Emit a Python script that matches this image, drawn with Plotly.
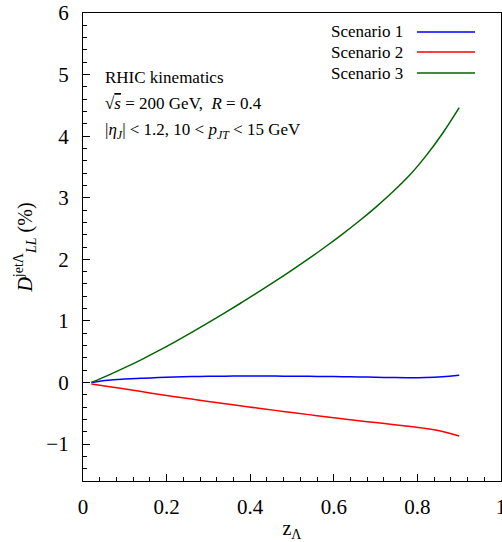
import plotly.graph_objects as go

z = [0.02, 0.06, 0.10, 0.14, 0.18, 0.22, 0.26, 0.30, 0.34, 0.38, 0.42, 0.46,
     0.50, 0.54, 0.58, 0.62, 0.66, 0.70, 0.74, 0.78, 0.82, 0.86, 0.90]
scen1 = [0.0, 0.035, 0.055, 0.07, 0.08, 0.088, 0.095, 0.1, 0.103, 0.105, 0.105, 0.104,
         0.102, 0.1, 0.097, 0.093, 0.089, 0.085, 0.08, 0.077, 0.08, 0.093, 0.118]
scen2 = [-0.025, -0.065, -0.105, -0.148, -0.19, -0.23, -0.27, -0.308, -0.345, -0.382, -0.418, -0.453,
         -0.488, -0.522, -0.556, -0.59, -0.621, -0.651, -0.681, -0.712, -0.747, -0.795, -0.87]
scen3 = [0.0, 0.116, 0.24, 0.372, 0.512, 0.66, 0.814, 0.972, 1.134, 1.30, 1.47, 1.644,
         1.824, 2.01, 2.204, 2.406, 2.618, 2.844, 3.088, 3.356, 3.676, 4.044, 4.464]

names = ["Scenario 1", "Scenario 2", "Scenario 3"]
colors = ["#0000ff", "#ff0000", "#006400"]
series = [scen1, scen2, scen3]

xticks = [0, 0.2, 0.4, 0.6, 0.8, 1]
xticklabels = ["0", "0.2", "0.4", "0.6", "0.8", "1"]
yticks = [-1, 0, 1, 2, 3, 4, 5, 6]
yticklabels = ["−1", "0", "1", "2", "3", "4", "5", "6"]

FONT = "Liberation Serif"

fig = go.Figure()
for n, c, s in zip(names, colors, series):
    fig.add_trace(go.Scatter(x=z, y=s, mode="lines", name=n,
                             line=dict(color=c, width=1.5, shape="spline", smoothing=1.0),
                             showlegend=False))

# manual legend (text to the left of the sample line)
W, H = 502, 542
ml, mr, mt, mb = 83, 1, 13, 61
pw, ph = W - ml - mr, H - mt - mb
def px2paper(xp, yp):
    return (xp - ml) / pw, 1 - (yp - mt) / ph

leg_y = [32, 52, 73]
for n, c, yp in zip(names, colors, leg_y):
    xa, ya = px2paper(405, yp)
    fig.add_annotation(x=xa, y=ya, xref="paper", yref="paper", text=n, showarrow=False,
                       xanchor="right", yanchor="middle", font=dict(family=FONT, size=17, color="black"))
    x0, _ = px2paper(417, yp)
    x1, _ = px2paper(475, yp)
    fig.add_shape(type="line", x0=x0, x1=x1, y0=ya, y1=ya, xref="paper", yref="paper",
                  line=dict(color=c, width=1.5))

texts = [
    ("RHIC kinematics", 78),
    ("√<span style='text-decoration:overline'><i>s</i></span> = 200 GeV,  <i>R</i> = 0.4", 104),
    ("|<i>η<sub>J</sub></i>| &lt; 1.2, 10 &lt; <i>p<sub>JT</sub></i> &lt; 15 GeV", 131),
]
for t, yp in texts:
    xa, ya = px2paper(103, yp)
    fig.add_annotation(x=xa, y=ya, xref="paper", yref="paper", text=t, showarrow=False,
                       xanchor="left", yanchor="middle", font=dict(family=FONT, size=17, color="black"))

fig.update_xaxes(range=[0, 1], tickvals=xticks, ticktext=xticklabels, ticks="inside", ticklen=7,
                 tickcolor="black", showline=True, linecolor="black", linewidth=1.2, mirror=True,
                 showgrid=False, zeroline=False, ticklabeloverflow="allow", automargin=False,
                 minor=dict(dtick=0.04, tick0=0, ticks="inside", ticklen=4, tickcolor="black", showgrid=False),
                 tickfont=dict(family=FONT, size=21, color="black"), ticklabelstandoff=7,
                 title=dict(text="z<sub>Λ</sub>", font=dict(family=FONT, size=20, color="black"), standoff=6))
fig.update_yaxes(range=[-1.6, 6], tickvals=yticks, ticktext=yticklabels, ticks="inside", ticklen=7,
                 tickcolor="black", showline=True, linecolor="black", linewidth=1.2, mirror=True,
                 showgrid=False, zeroline=False, automargin=False,
                 minor=dict(dtick=0.2, tick0=0, ticks="inside", ticklen=4, tickcolor="black", showgrid=False),
                 tickfont=dict(family=FONT, size=21, color="black"), ticklabelstandoff=9,
                 title=dict(text="<i>D</i><sup>jetΛ</sup><sub><i>LL</i></sub> (%)",
                            font=dict(family=FONT, size=20, color="black"), standoff=8))
fig.update_layout(width=W, height=H, margin=dict(l=ml, r=mr, t=mt, b=mb, autoexpand=False),
                  plot_bgcolor="white", paper_bgcolor="white", showlegend=False)
fig.write_html("out.html")
